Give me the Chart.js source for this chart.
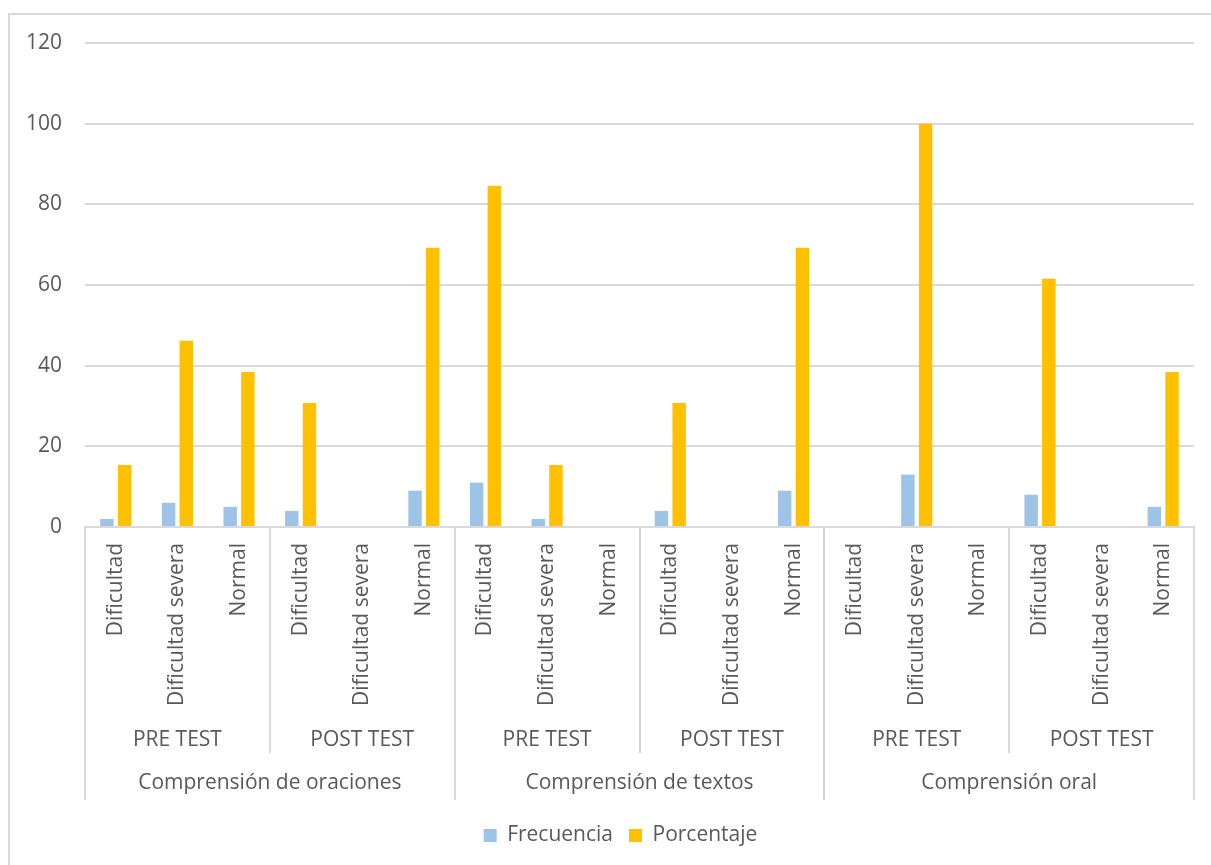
<!DOCTYPE html>
<html lang="es">
<head>
<meta charset="utf-8">
<title>Frecuencia y porcentaje por nivel</title>
<script src="https://cdn.jsdelivr.net/npm/chart.js@4/dist/chart.umd.min.js"></script>
<style>
  html, body { margin: 0; padding: 0; background: #ffffff; overflow: hidden; }
  #wrap { position: absolute; left: 0; top: 0; width: 1211px; height: 865px; }
</style>
</head>
<body>
<div id="wrap"><canvas id="chart" width="1211" height="865"></canvas></div>
<script>
// Category levels (innermost first)
const niveles = ['Dificultad', 'Dificultad severa', 'Normal',
                 'Dificultad', 'Dificultad severa', 'Normal',
                 'Dificultad', 'Dificultad severa', 'Normal',
                 'Dificultad', 'Dificultad severa', 'Normal',
                 'Dificultad', 'Dificultad severa', 'Normal',
                 'Dificultad', 'Dificultad severa', 'Normal'];
const momentos = ['PRE TEST', 'POST TEST', 'PRE TEST', 'POST TEST', 'PRE TEST', 'POST TEST'];
const dimensiones = ['Comprensión de oraciones', 'Comprensión de textos', 'Comprensión oral'];

// Series values
const frecuencia = [2, 6, 5, 4, 0, 9, 11, 2, 0, 4, 0, 9, 0, 13, 0, 8, 0, 5];
const porcentaje = [15.38, 46.15, 38.46, 30.77, 0, 69.23, 84.62, 15.38, 0, 30.77, 0, 69.23, 0, 100, 0, 61.54, 0, 38.46];

// Value axis ticks
const yTicks = [0, 20, 40, 60, 80, 100, 120];

const FONT = "'Open Sans', 'DejaVu Sans', sans-serif";
const FSIZE = 21;
const TEXT = '#595959';
const LINE = '#d9d9d9';

// Draws the outer frame plus the two grouping rows under the category labels
const groupAxis = {
  id: 'groupAxis',
  afterLayout(chart) {
    // centre the legend row within the whole frame rather than the canvas
    if (chart.legend) chart.legend.left = 47;
  },
  beforeDraw(chart) {
    const ctx = chart.ctx;
    ctx.save();
    ctx.strokeStyle = LINE;
    ctx.lineWidth = 2;
    ctx.beginPath();
    ctx.moveTo(9, 865);
    ctx.lineTo(9, 14);
    ctx.lineTo(1211, 14);
    ctx.stroke();
    ctx.restore();
  },
  afterDraw(chart) {
    const ctx = chart.ctx;
    const x = chart.scales.x;
    const n = niveles.length;
    const w = x.width / n;
    const edge = i => x.left + i * w;
    const top = chart.chartArea.bottom;
    const midBottom = 753;
    const fullBottom = 800;

    ctx.save();
    ctx.strokeStyle = LINE;
    ctx.lineWidth = 2;
    ctx.beginPath();
    for (let i = 0; i <= n; i += 3) {
      const px = Math.round(edge(i));
      const bottom = (i % 6 === 0) ? fullBottom : midBottom;
      ctx.moveTo(px, top);
      ctx.lineTo(px, bottom);
    }
    ctx.stroke();

    ctx.fillStyle = TEXT;
    ctx.font = FSIZE + 'px ' + FONT;
    ctx.textAlign = 'center';
    ctx.textBaseline = 'alphabetic';
    momentos.forEach((m, k) => {
      const cx = (edge(k * 3) + edge(k * 3 + 3)) / 2;
      ctx.fillText(m, cx, 746);
    });
    dimensiones.forEach((d, k) => {
      const cx = (edge(k * 6) + edge(k * 6 + 6)) / 2;
      ctx.fillText(d, cx, 789);
    });
    ctx.restore();
  }
};

new Chart(document.getElementById('chart'), {
  type: 'bar',
  data: {
    labels: niveles,
    datasets: [
      {
        label: 'Frecuencia',
        data: frecuencia,
        backgroundColor: '#9dc3e6',
        borderWidth: 0,
        categoryPercentage: 0.574,
        barPercentage: 0.76
      },
      {
        label: 'Porcentaje',
        data: porcentaje,
        backgroundColor: '#ffc000',
        borderWidth: 0,
        categoryPercentage: 0.574,
        barPercentage: 0.76
      }
    ]
  },
  options: {
    responsive: false,
    animation: false,
    devicePixelRatio: 1,
    layout: { padding: { left: 0, right: 17, top: 43, bottom: 9 } },
    plugins: {
      tooltip: { enabled: false },
      legend: {
        position: 'bottom',
        labels: {
          boxWidth: 13,
          boxHeight: 13,
          padding: 16,
          color: TEXT,
          font: { family: FONT, size: FSIZE }
        }
      }
    },
    scales: {
      x: {
        offset: true,
        grid: { display: false, drawTicks: false },
        border: { display: true, color: LINE, width: 2 },
        ticks: {
          autoSkip: false,
          minRotation: 90,
          maxRotation: 90,
          padding: 16,
          color: TEXT,
          font: { family: FONT, size: FSIZE }
        },
        afterFit(scale) { scale.height = 282; }
      },
      y: {
        min: 0,
        max: 120,
        afterBuildTicks(scale) { scale.ticks = yTicks.map(v => ({ value: v })); },
        grid: { color: LINE, lineWidth: 2, drawTicks: false },
        border: { display: false },
        ticks: {
          padding: 23,
          color: TEXT,
          font: { family: FONT, size: FSIZE }
        },
        afterFit(scale) { scale.width = 85; }
      }
    }
  },
  plugins: [groupAxis]
});
</script>
</body>
</html>
